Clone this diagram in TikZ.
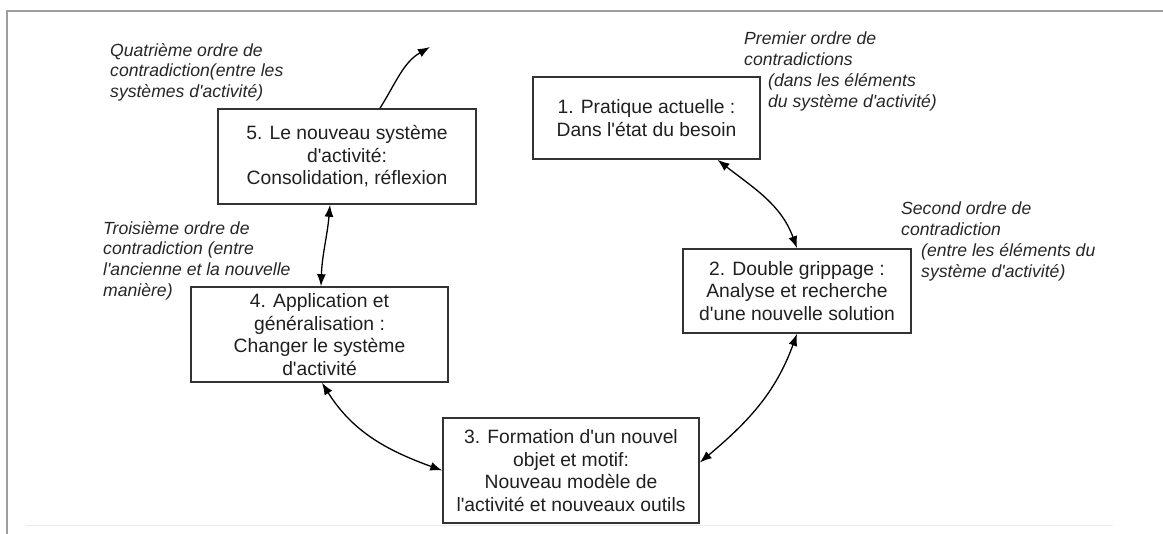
\documentclass[tikz,border=0pt]{standalone}
\usepackage{fontspec}
\newfontfamily\diagfont{Liberation Sans}
\usepackage{tikz}
\usetikzlibrary{positioning, arrows.meta}

\begin{document}
\begin{tikzpicture}[
    x=1pt, y=1pt,
    stage/.style={
      draw=black!80, rectangle, line width=1.6pt,
      inner sep=0pt, align=center, text=black!88,
      font=\diagfont\fontsize{19.3}{22.5}\selectfont
    },
    order/.style={
      inner sep=0pt, anchor=north west, align=left, text=black!85,
      font=\diagfont\itshape\fontsize{17.6}{20.8}\selectfont
    },
    tip/.style={Latex[length=12pt, width=9pt]},
    arrow/.style={line width=1.3pt, -{Latex[length=12pt, width=9pt]}},
    both/.style={line width=1.3pt,
      {Latex[length=12pt, width=9pt]}-{Latex[length=12pt, width=9pt]}},
    frame/.style={draw=black!38, line width=2pt}
  ]
    \useasboundingbox (0,0) rectangle (1163,-534);

    % ── Page frame ──
    \draw[frame] (1163,-11) -- (7,-11) -- (7,-534);
    \draw[draw=black!8, line width=1pt] (26,-526) -- (1113,-526);

    % ── Stages of the cycle ──
    \node[stage, minimum width=227pt, minimum height=82pt] (pratique)
      at (646.5,-118) {1. Pratique actuelle :\\Dans l'état du besoin};
    \node[stage, minimum width=228pt, minimum height=84pt] (grippage)
      at (797,-291) {2. Double grippage :\\Analyse et recherche\\d'une nouvelle solution};
    \node[stage, minimum width=256pt, minimum height=105pt] (formation)
      at (571,-470.5) {3. Formation d'un nouvel\\objet et motif:\\Nouveau modèle de\\l'activité et nouveaux outils};
    \node[stage, minimum width=257pt, minimum height=95pt] (application)
      at (319.5,-334.5) {4. Application et\\généralisation :\\Changer le système\\d'activité};
    \node[stage, minimum width=258pt, minimum height=95pt] (nouveau)
      at (347,-156.5) {5. Le nouveau système\\d'activité:\\Consolidation, réflexion};

    % ── Orders of contradiction ──
    \node[order] (premier) at (744,-32)
      {Premier ordre de\\contradictions\\\hspace*{24pt}(dans les éléments\\\hspace*{24pt}du système d'activité)};
    \node[order] (second) at (901,-202)
      {Second ordre de\\contradiction\\\hspace*{20pt}(entre les éléments du\\\hspace*{20pt}système d'activité)};
    \node[order] (troisieme) at (103,-221)
      {Troisième ordre de\\contradiction (entre\\l'ancienne et la nouvelle\\manière)};
    \node[order] (quatrieme) at (110,-43)
      {Quatrième ordre de\\contradiction(entre les\\systèmes d'activité)};

    % ── Connectors ──
    \coordinate (sortie) at (430,-47);
    \draw[arrow] ([xshift=33pt]nouveau.north) to[out=58, in=-150] (sortie);
    \draw[both] ([xshift=71pt]pratique.south) to[out=-38, in=110] (grippage.north);
    \draw[both] ([yshift=8pt]formation.east) to[out=40, in=-110] (grippage.south);
    \draw[both] ([xshift=2.5pt]application.south) to[out=-58, in=160] (formation.west);
    \draw[both] ([xshift=-17pt]nouveau.south) to[out=-95, in=88] ([xshift=1.5pt]application.north);

\end{tikzpicture}
\end{document}
